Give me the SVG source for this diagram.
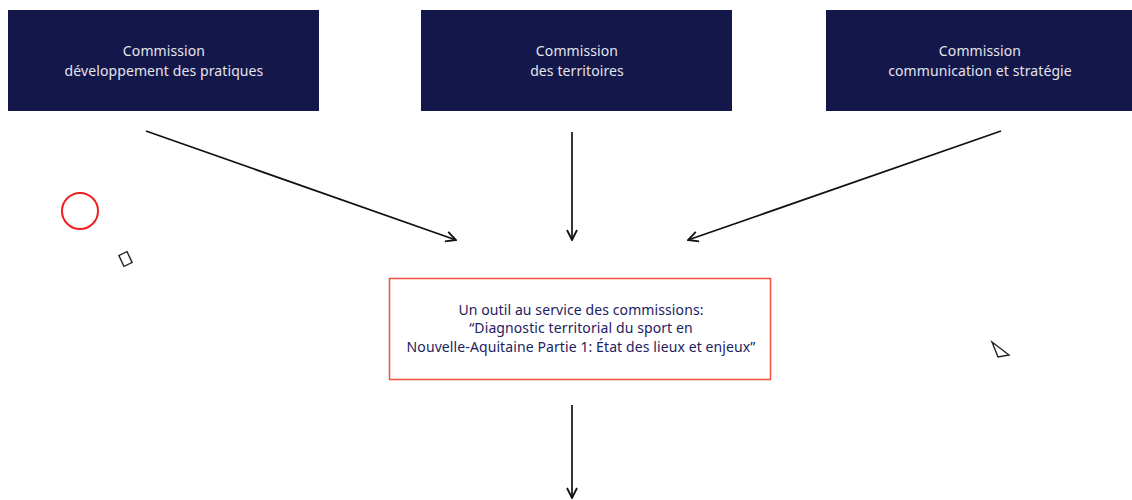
<svg xmlns="http://www.w3.org/2000/svg" width="1132" height="500" viewBox="0 0 1132 500">
<style>
.box{fill:#13174a}
.wt{fill:#e4e4ec;font-family:"Noto Sans",sans-serif;font-size:14px;letter-spacing:0.1px;text-anchor:middle}
.nt{fill:#1d2160;font-family:"Noto Sans",sans-serif;font-size:14px;letter-spacing:0.1px;text-anchor:middle}
.con{stroke:#111;stroke-width:1.7;fill:none;marker-end:url(#ah)}
</style>
<defs>
<marker id="ah" viewBox="0 0 12 12" refX="11" refY="6" markerWidth="12" markerHeight="12" markerUnits="userSpaceOnUse" orient="auto">
<path d="M1,1 L11,6 L1,11" fill="none" stroke="#111" stroke-width="1.8"/>
</marker>
</defs>
<rect width="1132" height="500" fill="#fff"/>
<g id="n1"><rect class="box" x="8" y="10" width="311" height="101"/>
<text class="wt" x="164" y="56">Commission</text><text class="wt" x="164" y="76">développement des pratiques</text></g>
<g id="n2"><rect class="box" x="421" y="10" width="311" height="101"/>
<text class="wt" x="577" y="56">Commission</text><text class="wt" x="577" y="76">des territoires</text></g>
<g id="n3"><rect class="box" x="826" y="10" width="306" height="101"/>
<text class="wt" x="980" y="56">Commission</text><text class="wt" x="980" y="76">communication et stratégie</text></g>
<g id="n4"><rect x="389.5" y="278.5" width="381" height="101" fill="#fff" stroke="#f0503f" stroke-width="1.5"/>
<text class="nt" x="581" y="315">Un outil au service des commissions:</text>
<text class="nt" x="581" y="333">“Diagnostic territorial du sport en</text>
<text class="nt" x="581" y="352">Nouvelle-Aquitaine Partie 1: État des lieux et enjeux”</text></g>
<g id="connectors">
<line class="con" x1="146" y1="131" x2="456" y2="240"/>
<line class="con" x1="572" y1="132" x2="572" y2="240"/>
<line class="con" x1="1001" y1="131" x2="688" y2="240"/>
<line class="con" x1="572" y1="405" x2="572" y2="498"/>
</g>
<g id="marks">
<circle cx="80" cy="211" r="18" fill="none" stroke="#f01e1e" stroke-width="2"/>
<rect x="121" y="253" width="9" height="12" fill="none" stroke="#222" stroke-width="1.4" transform="rotate(-25 125.5 259)"/>
<path d="M992,342 L1009,355 L998,357 Z" fill="none" stroke="#222" stroke-width="1.4"/>
</g>
</svg>
